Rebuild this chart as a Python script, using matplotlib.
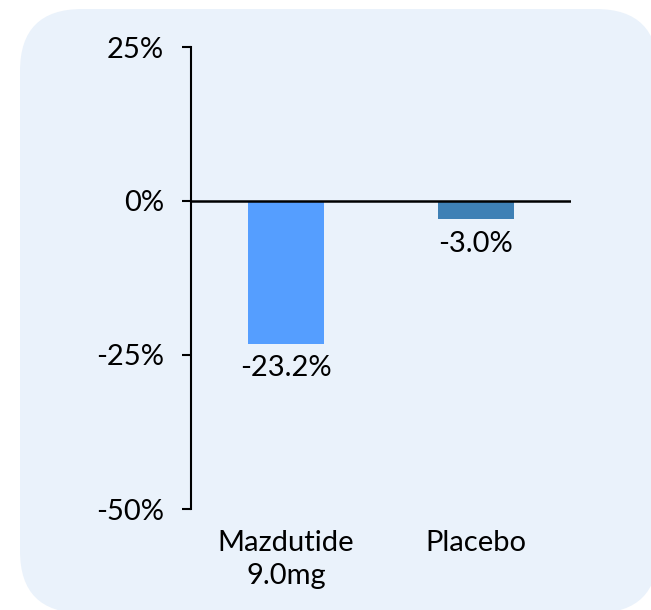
import matplotlib
matplotlib.use("Agg")
import matplotlib.pyplot as plt
from matplotlib.patches import FancyBboxPatch
from matplotlib.transforms import IdentityTransform

# data
categories = ["Mazdutide\n9.0mg", "Placebo"]
values = [-23.2, -3.0]
value_labels = ["-23.2%", "-3.0%"]
bar_colors = ["#559EFF", "#3E80B5"]
yticks = [-50, -25, 0, 25]
ytick_labels = ["-50%", "-25%", "0%", "25%"]

plt.rcParams['font.family'] = ['Lato', 'DejaVu Sans']
FS = 21

W, H, DPI = 651, 610, 100
fig = plt.figure(figsize=(W / DPI, H / DPI), dpi=DPI)
fig.patch.set_facecolor("white")

# rounded light blue panel (pixel coords, origin bottom-left)
panel = FancyBboxPatch((20, H - 613), 638, 604,
                       boxstyle="round,pad=0,rounding_size=62",
                       transform=IdentityTransform(),
                       facecolor="#EAF2FB", edgecolor="none", zorder=-10)
fig.patches.append(panel)

ax = fig.add_axes([191 / W, (H - 509) / H, 380 / W, 462 / H])
ax.set_facecolor("none")

x = list(range(len(categories)))
ax.bar(x, values, width=0.4, color=bar_colors, zorder=2)
ax.axhline(0, color="black", lw=1.8, zorder=3)

# value labels under each bar
for xi, v, lab in zip(x, values, value_labels):
    ax.annotate(lab, (xi, v), xytext=(0, -8), textcoords="offset points",
                ha="center", va="top", fontsize=FS)

ax.set_xlim(-0.5, 1.5)
ax.set_ylim(-50, 25)
ax.set_yticks(yticks)
ax.set_yticklabels(ytick_labels, fontsize=FS)
ax.set_xticks(x)
ax.set_xticklabels(categories, fontsize=FS, linespacing=1.35)

for s in ["top", "right", "bottom"]:
    ax.spines[s].set_visible(False)
ax.spines["left"].set_linewidth(1.5)
ax.tick_params(axis="y", direction="out", length=6.5, width=1.5, pad=13)
ax.tick_params(axis="x", length=0, pad=15)

fig.savefig("out.png", dpi=DPI)
